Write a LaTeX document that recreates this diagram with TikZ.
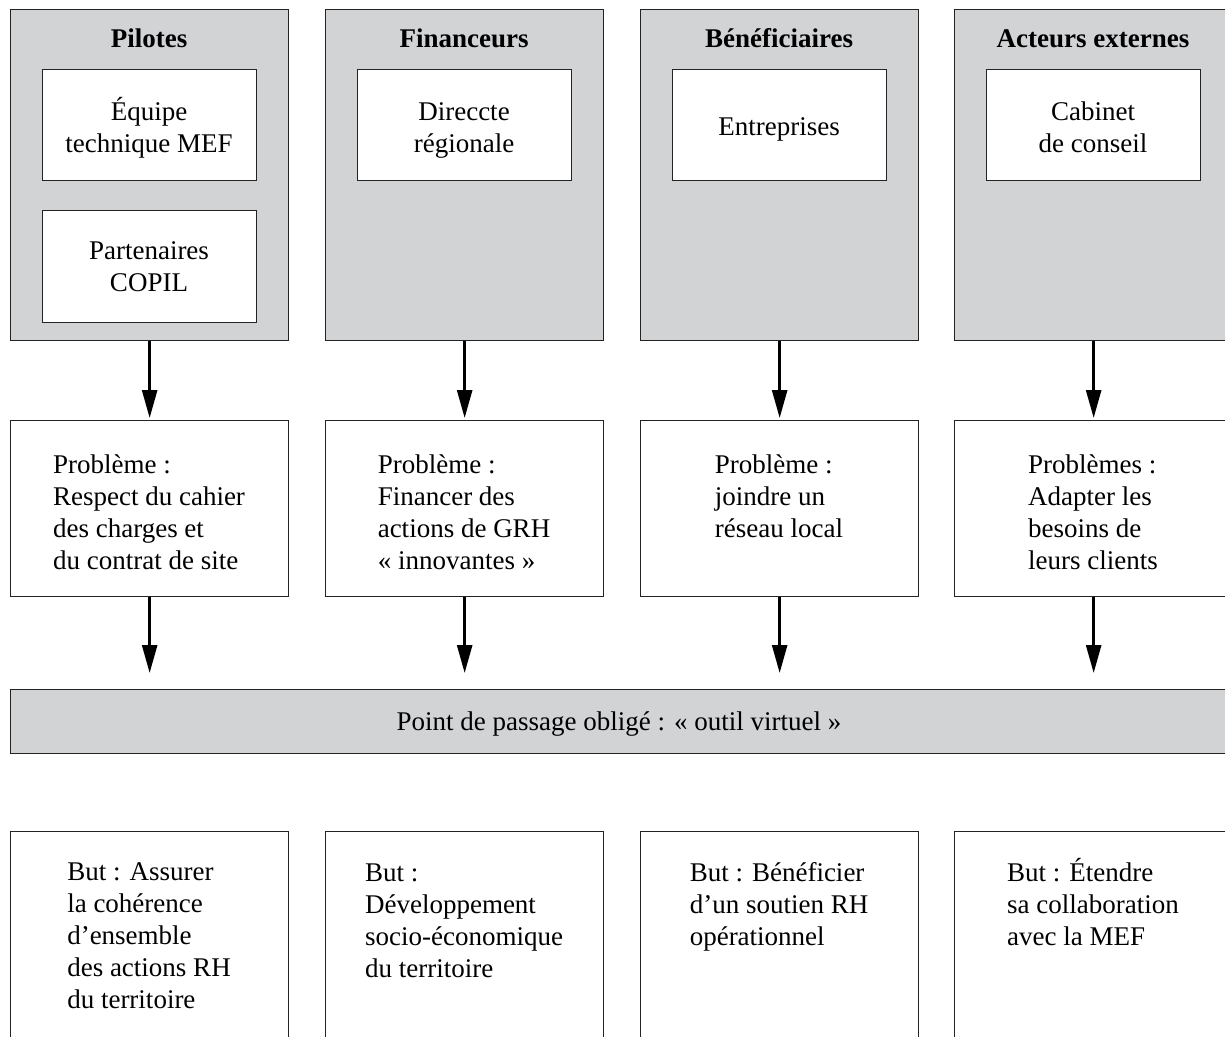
\documentclass[tikz,border=0pt]{standalone}
\usepackage{fontspec}
\setmainfont{Liberation Serif}
\usetikzlibrary{arrows.meta}
\definecolor{boxgray}{RGB}{210,211,213}
\definecolor{edgecol}{RGB}{35,35,35}
\begin{document}
\begin{tikzpicture}[x=1pt,y=-1pt,
  every node/.style={font=\fontsize{27}{32}\selectfont, inner sep=0pt},
  graybox/.style={draw=edgecol, fill=boxgray, line width=1.3pt, rectangle, anchor=north west},
  whitebox/.style={draw=edgecol, fill=white, line width=1.3pt, rectangle, anchor=north west},
  actor/.style={graybox, minimum width=278pt, minimum height=331pt},
  inner/.style={whitebox, minimum width=214pt},
  probbox/.style={whitebox, minimum width=278pt, minimum height=176pt},
  goalbox/.style={whitebox, minimum width=278pt, minimum height=230pt},
  title/.style={anchor=base, font=\fontsize{27}{32}\selectfont\bfseries},
  ctext/.style={anchor=base, align=center},
  blocktext/.style={anchor=base, align=left},
  arr/.style={line width=2.6pt, -{Triangle[length=28pt,width=15pt]}}
]
\useasboundingbox (0,0) rectangle (1225,1036);
\clip (0,0) rectangle (1225,1036);

% actor boxes
\node[actor] (p1) at (10,9) {};
\node[actor] (p2) at (325,9) {};
\node[actor] (p3) at (640,9) {};
\node[actor] (p4) at (954,9) {};

\node[title] (t1) at (149,47) {Pilotes};
\node[title] (t2) at (464,47) {Financeurs};
\node[title] (t3) at (779,47) {Bénéficiaires};
\node[title] (t4) at (1093,47) {Acteurs externes};

\node[inner, minimum height=111pt] (i1a) at (42,69) {};
\node[inner, minimum height=112pt] (i1b) at (42,210) {};
\node[inner, minimum height=111pt] (i2) at (357,69) {};
\node[inner, minimum height=111pt] (i3) at (672,69) {};
\node[inner, minimum height=111pt] (i4) at (986,69) {};

\node[ctext] (it1a) at (149,152.5) {Équipe\\technique MEF};
\node[ctext] (it1b) at (149,291.5) {Partenaires\\COPIL};
\node[ctext] (it2) at (464,152.5) {Direccte\\régionale};
\node[ctext] (it3) at (779,135.5) {Entreprises};
\node[ctext] (it4) at (1093,152.5) {Cabinet\\de conseil};

% problem boxes
\node[probbox] (q1) at (10,420) {};
\node[probbox] (q2) at (325,420) {};
\node[probbox] (q3) at (640,420) {};
\node[probbox] (q4) at (954,420) {};

\node[blocktext] (qt1) at (149,569) {Problème :\\Respect du cahier\\des charges et\\du contrat de site};
\node[blocktext] (qt2) at (464,569) {Problème :\\Financer des\\actions de GRH\\« innovantes »};
\node[blocktext] (qt3) at (779,537.3) {Problème :\\joindre un\\réseau local};
\node[blocktext] (qt4) at (1093,569) {Problèmes :\\Adapter les\\besoins de\\leurs clients};

% bar
\node[graybox, minimum width=1222pt, minimum height=64pt] (bar) at (10,689) {};
\node[anchor=base] (bart) at (619,730) {Point de passage obligé : « outil virtuel »};

% goal boxes
\node[goalbox] (g1) at (10,831) {};
\node[goalbox] (g2) at (325,831) {};
\node[goalbox] (g3) at (640,831) {};
\node[goalbox] (g4) at (954,831) {};

\node[blocktext] (gt1) at (149,1008.8) {But : Assurer\\la cohérence\\d’ensemble\\des actions RH\\du territoire};
\node[blocktext] (gt2) at (464,977.1) {But :\\Développement\\socio-économique\\du territoire};
\node[blocktext] (gt3) at (779,945.4) {But : Bénéficier\\d’un soutien RH\\opérationnel};
\node[blocktext] (gt4) at (1093,945.4) {But : Étendre\\sa collaboration\\avec la MEF};

% arrows
\foreach \k in {1,2,3,4}{
  \draw[arr, shorten >=2pt] (p\k.south) -- (q\k.north);
  \draw[arr, shorten >=16pt] (q\k.south) -- (q\k.south |- bar.north);
}
\end{tikzpicture}
\end{document}
